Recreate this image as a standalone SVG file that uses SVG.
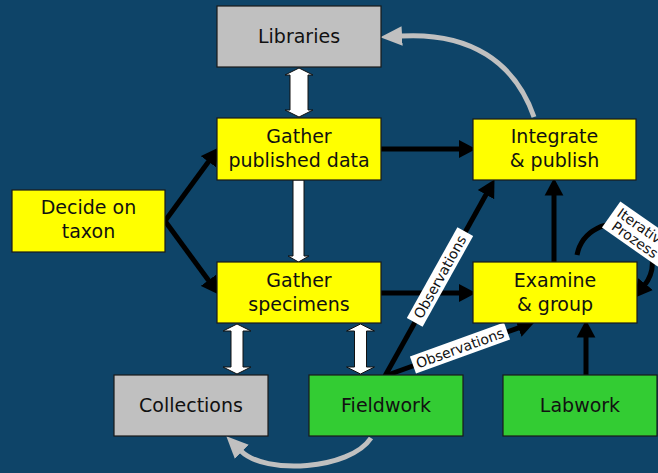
<svg xmlns="http://www.w3.org/2000/svg" width="658" height="473" viewBox="0 0 658 473">
<defs>
<style>
.box{stroke:#1a1a1a;stroke-width:1.2}
.y{fill:#ffff00}.g{fill:#c0c0c0}.gr{fill:#33cc33}
.t{font-family:"DejaVu Sans",Verdana,sans-serif;font-size:19px;fill:#111;text-anchor:middle}
.lbl{font-family:"DejaVu Sans",Verdana,sans-serif;font-size:14px;fill:#111;text-anchor:middle}
.blk{stroke:#000;stroke-width:5;fill:none;marker-end:url(#ah)}
.gry{stroke:#c0c0c0;stroke-width:5;fill:none;marker-end:url(#gh)}
.wht{fill:#fff;stroke:#111;stroke-width:1}
</style>
<marker id="ah" markerUnits="userSpaceOnUse" markerWidth="20" markerHeight="20" viewBox="0 -8 16 16" refX="2" refY="0" orient="auto">
<path d="M0,-7.5 L14,0 L0,7.5 z" fill="#000"/>
</marker>
<marker id="gh" markerUnits="userSpaceOnUse" markerWidth="24" markerHeight="24" viewBox="0 -10 22 20" refX="1" refY="0" orient="auto">
<path d="M0,-9 L20,0 L0,9 z" fill="#c0c0c0"/>
</marker>
</defs>
<rect width="658" height="473" fill="#0e4468"/>

<g id="connectors">
<line class="blk" x1="165" y1="221" x2="209.9" y2="159.7"/>
<line class="blk" x1="165" y1="221" x2="209.9" y2="282.3"/>
<line class="blk" x1="381" y1="149" x2="461" y2="149"/>
<line class="blk" x1="381" y1="293" x2="461" y2="293"/>
<line class="blk" x1="385" y1="376" x2="487.2" y2="192.5"/>
<line class="blk" x1="385" y1="376" x2="520.7" y2="327.1"/>
<line class="blk" x1="554" y1="262" x2="554" y2="193"/>
<line class="blk" x1="586" y1="375" x2="586" y2="335"/>
<path class="blk" d="M577,255 A38,38 0 1 1 644,286"/>
<path class="gry" d="M534,117 C515,62 470,32 401,36"/>
<path class="gry" d="M371,438 C350,470 265,475 241,451"/>
<polygon class="wht" points="299,68 313,75 308,75 308,110 313,110 299,117 285,110 290,110 290,75 285,75"/>
<polygon class="wht" points="237,324 251,331 243,331 243,367 251,367 237,374 223,367 231,367 231,331 223,331"/>
<polygon class="wht" points="360.5,324 374.5,331 366.5,331 366.5,367 374.5,367 360.5,374 346.5,367 354.5,367 354.5,331 346.5,331"/>
<polygon class="wht" points="293,180 304,180 304,256 309,256 298.5,262 288,256 293,256"/>
<g transform="translate(440,277) rotate(-60.9)">
<rect x="-52" y="-9" width="104" height="18" fill="#fff"/>
<text class="lbl" x="0" y="5">Observations</text>
</g>
<g transform="translate(460,348) rotate(-19.8)">
<rect x="-50" y="-9" width="100" height="18" fill="#fff"/>
<text class="lbl" x="0" y="5">Observations</text>
</g>
<g transform="translate(639,234) rotate(35)">
<rect x="-34" y="-16" width="68" height="32" fill="#fff"/>
<text class="lbl" x="0" y="-2">Iterative</text>
<text class="lbl" x="0" y="12">Prozess</text>
</g>
</g>

<g id="libraries"><rect class="box g" x="217" y="6" width="164" height="61"/><text class="t" x="299" y="43">Libraries</text></g>
<g id="gather-published"><rect class="box y" x="217" y="118" width="164" height="62"/><text class="t" x="299" y="143">Gather</text><text class="t" x="299" y="167">published data</text></g>
<g id="decide"><rect class="box y" x="12" y="190" width="153" height="62"/><text class="t" x="88.5" y="214">Decide on</text><text class="t" x="88.5" y="238">taxon</text></g>
<g id="gather-specimens"><rect class="box y" x="217" y="262" width="164" height="61"/><text class="t" x="299" y="287">Gather</text><text class="t" x="299" y="311">specimens</text></g>
<g id="integrate"><rect class="box y" x="473" y="119" width="163" height="61"/><text class="t" x="554.5" y="143">Integrate</text><text class="t" x="554.5" y="167">&amp; publish</text></g>
<g id="examine"><rect class="box y" x="473" y="262" width="164" height="61"/><text class="t" x="555" y="287">Examine</text><text class="t" x="555" y="311">&amp; group</text></g>
<g id="collections"><rect class="box g" x="114" y="375" width="154" height="61"/><text class="t" x="191" y="412">Collections</text></g>
<g id="fieldwork"><rect class="box gr" x="309" y="375" width="154" height="61"/><text class="t" x="386" y="412">Fieldwork</text></g>
<g id="labwork"><rect class="box gr" x="503" y="375" width="154" height="61"/><text class="t" x="580" y="412">Labwork</text></g>
</svg>
